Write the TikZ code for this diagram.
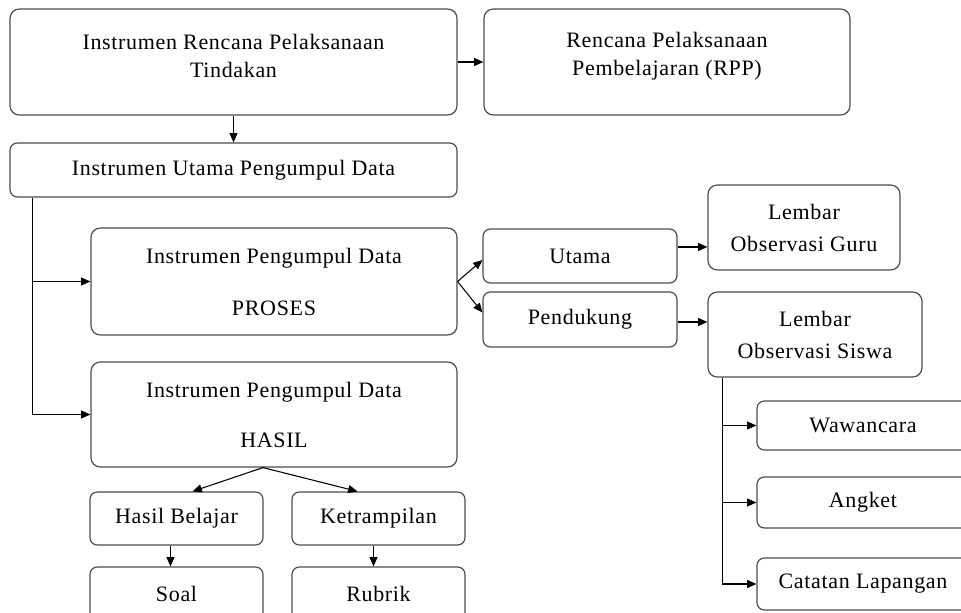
\documentclass[tikz,border=0pt]{standalone}
\usepackage{fontspec}
\setmainfont{Liberation Serif}[LetterSpace=3]
\usetikzlibrary{calc,arrows.meta}
\begin{document}
\begin{tikzpicture}[x=0.75pt,y=-0.75pt,
  box/.style={draw=black!70, line width=0.9pt, rounded corners=7pt, inner sep=0pt, align=center,
    font=\fontsize{16.5}{21}\selectfont},
  smallbox/.style={box, rounded corners=5.5pt},
  txt/.style={inner sep=0pt, align=center, font=\fontsize{16.5}{21}\selectfont},
  arr/.style={draw=black, line width=0.8pt, -{Triangle[length=7pt,width=6pt]}},
  ln/.style={draw=black, line width=0.8pt}]
\useasboundingbox (0,0) rectangle (961,613);
\clip (0,0) rectangle (961,613);

% top boxes
\node[box, minimum width=335.25pt, minimum height=79.5pt] (A) at (233.5,62) {};
\node[txt] (At) at (233.5,56) {Instrumen Rencana Pelaksanaan\\Tindakan};
\node[box, minimum width=274.5pt, minimum height=79.5pt] (B) at (667,62) {};
\node[txt] (Bt) at (667,56) {Rencana Pelaksanaan\\Pembelajaran (RPP)};
\node[smallbox, minimum width=335.25pt, minimum height=40.5pt] (C) at (233.5,170) {Instrumen Utama Pengumpul Data};

% proses / hasil
\node[box, minimum width=274.5pt, minimum height=80.25pt, font=\fontsize{16.5}{39}\selectfont] (D) at (274,281.5) {Instrumen Pengumpul Data\\PROSES};
\node[box, minimum width=274.5pt, minimum height=78.75pt, font=\fontsize{16.5}{37.5}\selectfont] (E) at (274,414.5) {Instrumen Pengumpul Data\\HASIL};

% hasil children
\node[smallbox, minimum width=129.75pt, minimum height=39.75pt] (F) at (176.5,518.5) {Hasil Belajar};
\node[smallbox, minimum width=129.75pt, minimum height=39.75pt] (G) at (378.5,518.5) {Ketrampilan};
\node[smallbox, minimum width=129.75pt, minimum height=39.75pt] (H) at (176.5,593.5) {Soal};
\node[smallbox, minimum width=129.75pt, minimum height=39.75pt] (I) at (378.5,593.5) {Rubrik};

% proses children
\node[smallbox, minimum width=145.5pt, minimum height=40.5pt] (J) at (580,256) {Utama};
\node[smallbox, minimum width=145.5pt, minimum height=41.25pt] (K) at (580,319.5) {Pendukung};
\node[box, minimum width=144pt, minimum height=63.75pt, font=\fontsize{16.5}{24}\selectfont] (L) at (804,227.5) {Lembar\\Observasi Guru};
\node[box, minimum width=160.5pt, minimum height=63.75pt, font=\fontsize{16.5}{24}\selectfont] (M) at (815,334.5) {Lembar\\Observasi Siswa};

% supporting instruments
\node[smallbox, minimum width=159pt, minimum height=36.75pt] (N) at (863,425.5) {Wawancara};
\node[smallbox, minimum width=159pt, minimum height=38.25pt] (O) at (863,502.5) {Angket};
\node[smallbox, minimum width=159pt, minimum height=39pt] (P) at (863,584) {Catatan Lapangan};

% connectors
\draw[arr] (A.east) -- (B.west);
\draw[arr] (A.south) -- (C.north);

\coordinate (c1) at ($(C.south west)+(23,0)$);
\draw[arr] (c1) |- (E.west);
\draw[arr] (c1) |- (D.west);

\draw[arr] (D.east) -- ($(J.west)+(0,4)$);
\draw[arr] (D.east) -- ($(K.west)+(0,-7)$);

\coordinate (j1) at ($(J.east)+(0,-9)$);
\draw[arr] (j1) -- (j1 -| L.west);
\coordinate (k1) at ($(K.east)+(0,2.5)$);
\draw[arr] (k1) -- (k1 -| M.west);

\coordinate (e1) at ($(E.south)+(-11,0)$);
\draw[arr] (e1) -- ($(F.north)+(16,0)$);
\draw[arr] (e1) -- ($(G.north)+(-21,0)$);
\draw[arr] ($(F.south)+(-6,0)$) -- ($(H.north)+(-6,0)$);
\draw[arr] ($(G.south)+(-5,0)$) -- ($(I.north)+(-5,0)$);

\coordinate (m1) at ($(M.south west)+(15,0)$);
\draw[arr] (m1) |- (P.west);
\draw[arr] (m1) |- (O.west);
\draw[arr] (m1) |- (N.west);
\end{tikzpicture}
\end{document}
